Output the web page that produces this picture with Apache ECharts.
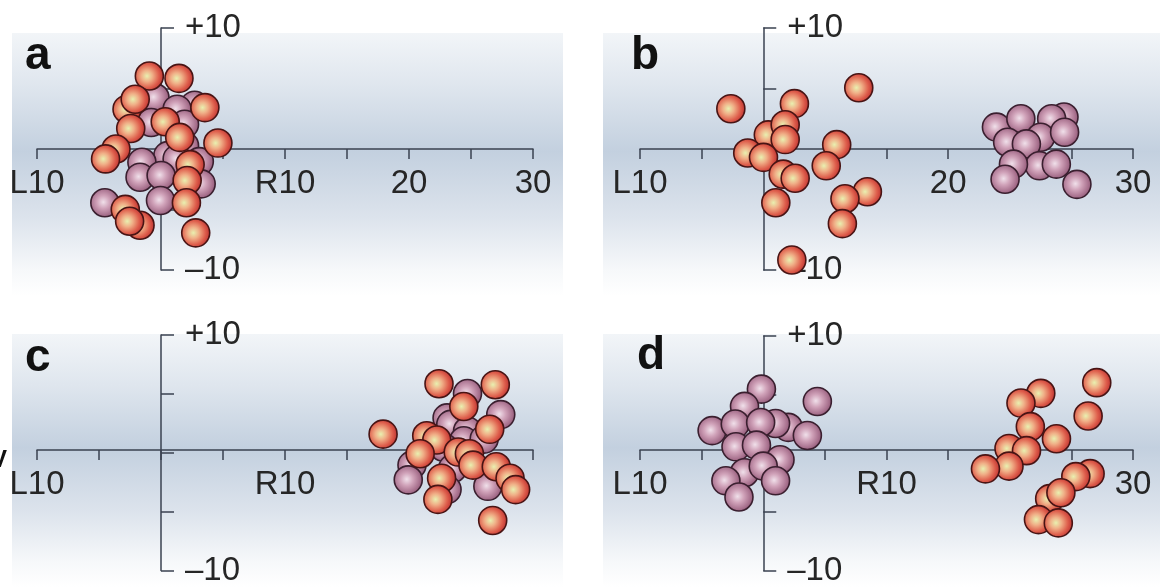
<!DOCTYPE html>
<html>
<head>
<meta charset="utf-8">
<script src="https://cdn.jsdelivr.net/npm/echarts@6/dist/echarts.min.js"></script>
<style>
html,body{margin:0;padding:0;background:#fff;}
#main{width:1169px;height:587px;}
</style>
</head>
<body>
<div id="main"></div>
<script>
// sphere positions (x: L10..30, y: -10..+10)
const aRed = [[-0.94,6.03],[1.45,5.84],[-2.74,3.29],[-2.08,4.11],[3.54,3.42],[0.34,2.25],[-2.44,1.70],[1.51,0.96],[4.59,0.49],[-3.63,0.0],[-4.47,-0.82],[2.35,-1.29],[2.11,-2.60],[2.05,-4.44],[-1.69,-6.30],[-2.88,-4.99],[-2.53,-5.97],[2.80,-6.93]];
const aMauve = [[-0.49,4.25],[2.71,3.62],[1.30,3.29],[-0.79,2.19],[1.90,2.05],[1.90,0.27],[0.55,-0.55],[1.30,-0.82],[-1.54,-1.10],[3.09,-1.04],[-1.69,-2.33],[0.01,-2.19],[3.24,-2.88],[-4.53,-4.44],[-0.04,-4.25]];

const bRed = [[-2.63,3.33],[2.53,3.75],[7.75,5.06],[0.41,1.17],[1.78,2.0],[1.78,0.78],[-1.26,-0.33],[0.02,-0.69],[5.96,0.36],[5.11,-1.39],[1.62,-2.08],[2.59,-2.42],[1.02,-4.44],[8.45,-3.53],[6.63,-4.11],[6.42,-6.17],[2.32,-9.17]];
const bMauve = [[24.4,2.64],[18.92,1.81],[20.9,2.5],[23.4,2.5],[22.5,0.97],[19.83,0.56],[21.35,0.42],[24.45,1.39],[22.41,-1.39],[20.3,-1.25],[23.78,-1.25],[19.62,-2.5],[25.45,-2.92]];

const cRed = [[22.42,5.86],[26.96,5.78],[24.42,3.93],[17.91,1.58],[21.43,1.44],[22.24,1.08],[26.51,1.99],[20.90,-0.08],[23.97,0.06],[24.87,-0.08],[25.16,-1.05],[27.04,-1.19],[28.15,-2.16],[28.60,-3.13],[22.63,-2.16],[22.33,-3.96],[26.75,-5.75]];
const cMauve = [[24.72,5.03],[23.07,2.96],[27.40,3.24],[23.37,2.41],[24.72,1.85],[24.42,1.02],[26.06,1.16],[22.78,0.47],[23.97,-0.64],[20.24,-1.05],[19.94,-2.30],[23.52,-1.33],[23.07,-3.13],[26.36,-2.85]];

const dMauve = [[-0.15,5.47],[4.39,4.42],[-1.52,4.0],[-4.15,1.93],[-2.27,2.49],[2.03,2.21],[1.0,2.54],[-0.21,2.62],[3.58,1.52],[-2.21,0.55],[-0.55,0.69],[1.36,-0.55],[-1.52,-1.66],[0.0,-1.10],[-3.03,-2.35],[1.0,-2.35],[-1.97,-3.73]];
const dRed = [[27.06,6.02],[22.52,5.11],[20.91,4.28],[26.36,3.18],[21.67,2.27],[23.79,1.24],[19.94,0.41],[21.36,0.22],[19.94,-1.10],[18.03,-1.33],[26.52,-1.74],[25.36,-1.99],[23.24,-3.87],[24.15,-3.37],[22.33,-5.66],[23.94,-5.94]];

// tick labels per panel
const xLabelsA = [[-10,'L10'],[10,'R10'],[20,'20'],[30,'30']];
const xLabelsB = [[-10,'L10'],[15,'20'],[30,'30']];
const xLabelsC = [[-10,'L10'],[10,'R10']];
const xLabelsD = [[-10,'L10'],[10,'R10'],[30,'30']];
const yLabels = [[10,'+10'],[-10,'\u201310']];
const panelNames = ['a','b','c','d'];

var grids = [
  {left:37, top:28, width:496, height:242},
  {left:640, top:28, width:493, height:242},
  {left:37, top:335, width:496, height:241},
  {left:640, top:336, width:493, height:241}
];
var xLabelSets = [xLabelsA, xLabelsB, xLabelsC, xLabelsD];
var lineCol = '#3a4250';
var txtFont = 'Liberation Sans';

function lookup(list){
  return function(v){
    for (var i=0;i<list.length;i++){ if (list[i][0]===v) return list[i][1]; }
    return '';
  };
}

var redBall = {
  type:'radial', x:0.42, y:0.5, r:0.62,
  colorStops:[{offset:0,color:'#e9f0b0'},{offset:0.3,color:'#f0b088'},{offset:0.65,color:'#de5e4c'},{offset:1,color:'#b02428'}]
};
var mauveBall = {
  type:'radial', x:0.45, y:0.48, r:0.62,
  colorStops:[{offset:0,color:'#f0e0ea'},{offset:0.35,color:'#d0a2b9'},{offset:0.7,color:'#a8718e'},{offset:1,color:'#7e4766'}]
};

var xAxes=[], yAxes=[], series=[];
grids.forEach(function(g,i){
  // x axis sits on y = 0 (middle of the grid), y axis sits on x = 0
  xAxes.push({
    gridIndex:i, type:'value', min:-10, max:30, interval:5,
    position:'bottom', offset:-g.height/2,
    axisLine:{show:true, onZero:false, lineStyle:{color:lineCol, width:1.5}},
    axisTick:{show:true, length:10, lineStyle:{color:lineCol, width:1.5}},
    splitLine:{show:false},
    axisLabel:{formatter:lookup(xLabelSets[i]), fontSize:33, fontFamily:txtFont, color:'#262626', margin:18}
  });
  yAxes.push({
    gridIndex:i, type:'value', min:-10, max:10, interval:5,
    position:'right', offset:-g.width*30/40,
    axisLine:{show:true, onZero:false, lineStyle:{color:lineCol, width:1.5}},
    axisTick:{show:true, length:13, lineStyle:{color:lineCol, width:1.5}},
    splitLine:{show:false},
    axisLabel:{formatter:lookup(yLabels), fontSize:33, fontFamily:txtFont, color:'#262626', margin:24}
  });
});

var sets = [[aMauve,aRed],[bMauve,bRed],[cMauve,cRed],[dMauve,dRed]];
sets.forEach(function(s,i){
  series.push({
    type:'scatter', xAxisIndex:i, yAxisIndex:i, data:s[0], symbolSize:28, z:3,
    itemStyle:{color:mauveBall, borderColor:'#3a1f2f', borderWidth:1.6, opacity:1},
    emphasis:{disabled:true}, animation:false
  });
  series.push({
    type:'scatter', xAxisIndex:i, yAxisIndex:i, data:s[1], symbolSize:28, z:4,
    itemStyle:{color:redBall, borderColor:'#481414', borderWidth:1.6, opacity:1},
    emphasis:{disabled:true}, animation:false
  });
});

function bgRect(x,y,w,h){
  return {
    type:'rect', z:-10, silent:true,
    shape:{x:x, y:y, width:w, height:h},
    style:{fill:{type:'linear', x:0, y:0, x2:0, y2:1, colorStops:[
      {offset:0,color:'#f2f5f8'},{offset:0.2,color:'#dfe6ee'},{offset:0.45,color:'#c3d0df'},
      {offset:0.7,color:'#dce3ec'},{offset:0.9,color:'#f6f8fa'},{offset:1,color:'#ffffff'}]}}
  };
}
var letterPos = [[25,56],[631,56],[25,358],[637,356]];
var graphics = [
  bgRect(12,33,551,263), bgRect(603,33,557,263),
  bgRect(12,334,551,253), bgRect(603,334,557,253)
];
panelNames.forEach(function(n,i){
  graphics.push({type:'text', z:100, silent:true, x:letterPos[i][0], y:letterPos[i][1],
    style:{text:n, font:'bold 46px "Liberation Sans"', fill:'#111', verticalAlign:'middle'}});
});
graphics.push({type:'text', z:100, silent:true, x:-9, y:460,
  style:{text:'V', font:'bold 24px "Liberation Sans"', fill:'#111', verticalAlign:'middle'}});

var myChart = echarts.init(document.getElementById('main'), null, {renderer:'canvas'});
var option = {
  animation:false,
  backgroundColor:'#ffffff',
  grid:grids,
  xAxis:xAxes,
  yAxis:yAxes,
  series:series,
  graphic:{elements:graphics}
};
option && myChart.setOption(option);
</script>
</body>
</html>
